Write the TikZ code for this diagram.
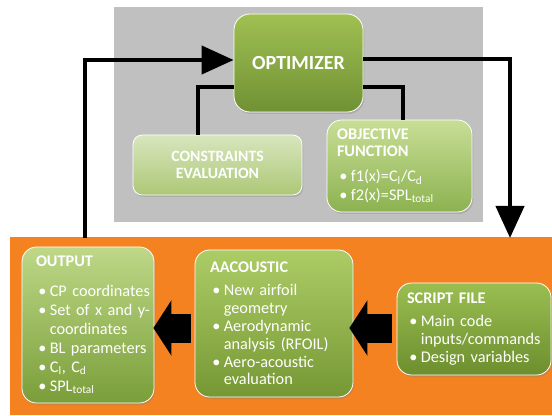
\documentclass[tikz,border=0pt]{standalone}
\usepackage{fontspec}
\setmainfont{Carlito}
\usetikzlibrary{arrows.meta, shadows}

\definecolor{panelgray}{RGB}{192,192,192}
\definecolor{panelorange}{RGB}{245,130,32}
\definecolor{optTop}{RGB}{160,192,82}
\definecolor{optBot}{RGB}{112,145,52}
\definecolor{conTop}{RGB}{216,230,190}
\definecolor{conBot}{RGB}{172,200,118}
\definecolor{objTop}{RGB}{200,222,150}
\definecolor{objBot}{RGB}{140,178,80}
\definecolor{outTop}{RGB}{190,216,135}
\definecolor{outBot}{RGB}{122,158,58}
\definecolor{aacTop}{RGB}{172,204,102}
\definecolor{aacBot}{RGB}{118,152,52}
\definecolor{scrTop}{RGB}{155,190,82}
\definecolor{scrBot}{RGB}{108,142,46}

\newcommand{\hd}[2][4pt]{\textbf{#2}\par\vspace{#1}}
\newcommand{\itm}[1]{\par\noindent\hspace*{0.15em}\makebox[0.7em][l]{\textbullet}\mbox{#1}}
\newcommand{\cnt}[1]{\par\noindent\hspace*{0.85em}\mbox{#1}}

\begin{document}
\begin{tikzpicture}[x=0.75pt,y=-0.75pt,
  box/.style={rounded corners=11pt, draw=white, line width=0.6pt, text=white,
    drop shadow={opacity=0.3,shadow xshift=1pt,shadow yshift=-1.5pt},
    font=\fontsize{12.2}{13.4}\selectfont},
  flow/.style={line width=3.2pt, -{Triangle[length=24pt,width=21pt]}},
  link/.style={line width=3.2pt},
  blk/.style={line width=21.75pt, -{Triangle[length=13.5pt,width=41pt]}}]
\useasboundingbox (0,0) rectangle (552,416);
\fill[white] (0,0) rectangle (552,416);
\fill[panelgray] (114,7) rectangle (483,222);
\fill[panelorange] (10,237) rectangle (552,415);

\coordinate (TOPL) at (85,238);
\coordinate (TOPR) at (510,238);

\node[box, top color=optTop, bottom color=optBot, minimum width=96.75pt, minimum height=73.5pt,
  rounded corners=12pt, font=\bfseries\fontsize{15}{18}\selectfont] at (298.5,63) (OPT) {OPTIMIZER};
\node[box, top color=conTop, bottom color=conBot, minimum width=126.75pt, minimum height=45pt,
  rounded corners=7pt, align=center, font=\bfseries\fontsize{11.8}{12.75}\selectfont] at (217.5,165) (CON) {CONSTRAINTS\\EVALUATION};
\node[box, top color=objTop, bottom color=objBot, minimum width=108.75pt, minimum height=69pt,
  text width=93.75pt, inner xsep=7.5pt, align=left, font=\fontsize{12.2}{14.2}\selectfont] at (399.5,166) (OBJ)
  {\hd[4.5pt]{OBJECTIVE\\[-1.4pt]FUNCTION}\itm{f1(x)=C\textsubscript{l}/C\textsubscript{d}}\itm{f2(x)=SPL\textsubscript{total}}};

\node[box, top color=outTop, bottom color=outBot, minimum width=99pt, minimum height=117pt,
  text width=78pt, inner xsep=10.5pt, align=left, font=\fontsize{12.2}{14.2}\selectfont] at (88,325) (OUT)
  {\hd[8pt]{OUTPUT}\itm{CP coordinates}\itm{Set of x and y-}\cnt{coordinates}\itm{BL parameters}%
   \itm{C\textsubscript{l}, C\textsubscript{d}}\itm{SPL\textsubscript{total}}};
\node[box, top color=aacTop, bottom color=aacBot, minimum width=118.5pt, minimum height=110.25pt,
  text width=96pt, inner xsep=11.25pt, align=left] at (274,323.5) (AAC)
  {\hd[3.8pt]{AACOUSTIC}\itm{New airfoil}\cnt{geometry}\itm{Aerodynamic}\cnt{analysis (RFOIL)}%
   \itm{Aero-acoustic}\cnt{evaluation}};
\node[box, top color=scrTop, bottom color=scrBot, minimum width=115.5pt, minimum height=69pt,
  text width=100.5pt, inner xsep=7.5pt, align=left] at (474,329) (SCR)
  {\hd[3.8pt]{SCRIPT FILE}\itm{Main code}\cnt{inputs/commands}\itm{Design variables}};

% big arrows between the lower boxes
\draw[blk, shorten <=3.75pt, shorten >=-3pt] (SCR.west |- 0,328) -- (AAC.east |- 0,328);
\draw[blk, shorten <=3pt, shorten >=-0.75pt] (AAC.west |- 0,328) -- (OUT.east |- 0,328);

% loop
\draw[flow] (TOPL) |- (OPT.west |- 0,60);
\draw[flow] (OPT.east |- 0,59) -| (TOPR);
\draw[link] (OPT.west |- 0,87) -| (CON.north -| 198,0);
\draw[link] (OPT.east |- 0,87) -| (OBJ.north -| 403,0);
\end{tikzpicture}
\end{document}
